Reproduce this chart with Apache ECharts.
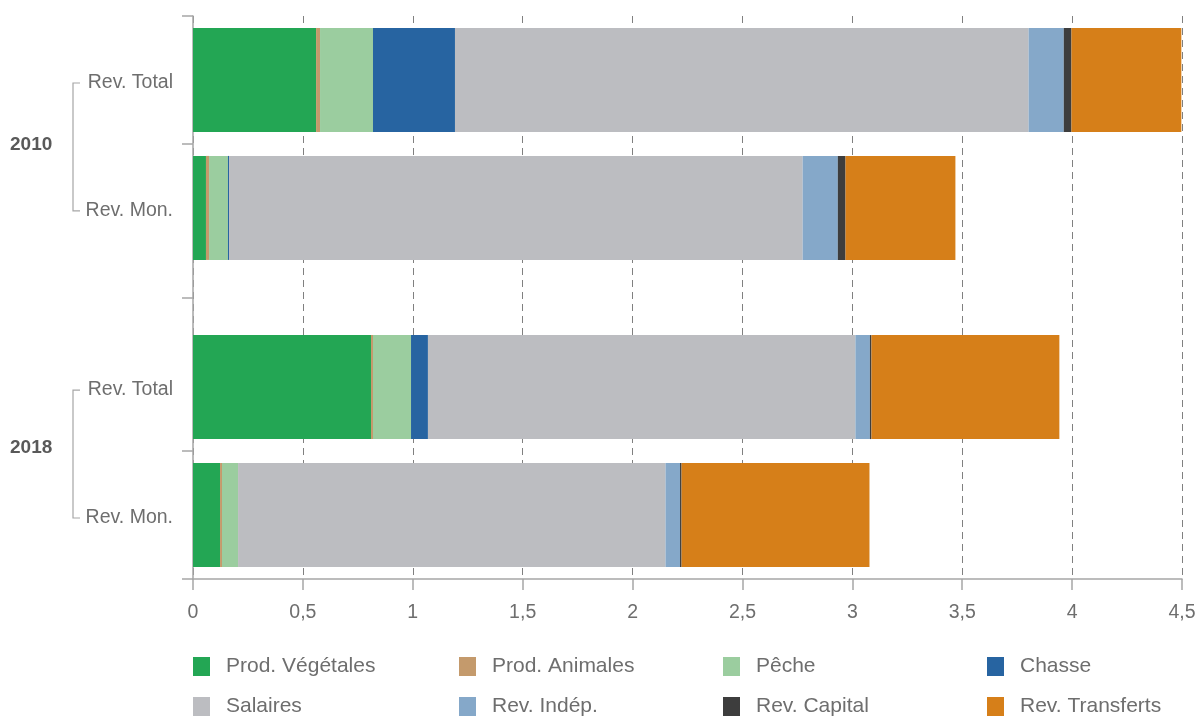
<!DOCTYPE html>
<html>
<head>
<meta charset="utf-8">
<script src="https://cdn.jsdelivr.net/npm/echarts@6/dist/echarts.min.js"></script>
<style>html,body{margin:0;padding:0;background:#fff;}#c{width:1200px;height:716px;}</style>
</head>
<body>
<div id="c"></div>
<script>
// ---- data ----
const years = ['2010', '2018'];
const barLabels = ['Rev. Total', 'Rev. Mon.', 'Rev. Total', 'Rev. Mon.'];
const barYear = [0, 0, 1, 1];
const seriesNames = ['Prod. Végétales', 'Prod. Animales', 'Pêche', 'Chasse', 'Salaires', 'Rev. Indép.', 'Rev. Capital', 'Rev. Transferts'];
const prodVegetales = [0.56, 0.059, 0.81, 0.123];
const prodAnimales = [0.018, 0.014, 0.009, 0.009];
const peche = [0.241, 0.086, 0.173, 0.073];
const chasse = [0.373, 0.005, 0.077, 0];
const salaires = [2.61, 2.61, 1.945, 1.945];
const revIndep = [0.16, 0.16, 0.066, 0.066];
const revCapital = [0.035, 0.035, 0.007, 0.007];
const revTransferts = [0.5, 0.5, 0.855, 0.855];
const xTicks = [0, 0.5, 1, 1.5, 2, 2.5, 3, 3.5, 4, 4.5];

// ---- layout (not data) ----
const SLOTS = 22;
const barSlot = [2, 7, 14, 19];
const tickSlots = [0, 5, 11, 17];
const yearOffset = [-2, -6];
const colors = ['#23a654', '#c49a6c', '#9bcd9f', '#2764a1', '#bcbdc1', '#85a8c9', '#3d3d3d', '#d67f19'];
const textColor = '#6e6e6e';
const font = 'Liberation Sans, Arial, sans-serif';
const legendColLeft = [193, 459, 723, 987];
const legendRowTop = [656, 696];

const allValues = [prodVegetales, prodAnimales, peche, chasse, salaires, revIndep, revCapital, revTransferts];
const cats = [];
for (let i = 0; i < SLOTS; i++) cats.push('');
barSlot.forEach((s, i) => { cats[s] = barLabels[i]; });

function slotData(vals) {
  const d = [];
  for (let i = 0; i < SLOTS; i++) d.push('-');
  barSlot.forEach((s, i) => { d[s] = vals[i]; });
  return d;
}

const series = seriesNames.map((n, k) => ({
  name: n, type: 'bar', stack: 'all', barWidth: 104,
  itemStyle: { color: colors[k] },
  emphasis: { disabled: true },
  data: slotData(allValues[k])
}));

const legends = seriesNames.map((n, k) => ({
  orient: 'horizontal', left: legendColLeft[k % 4], top: legendRowTop[Math.floor(k / 4)],
  itemWidth: 17, itemHeight: 19, icon: 'rect',
  selectedMode: false,
  padding: 0,
  data: [n],
  textStyle: { color: textColor, fontSize: 21, fontFamily: font, padding: [0, 0, 0, 11] }
}));

const chart = echarts.init(document.getElementById('c'), null, { renderer: 'canvas' });
chart.setOption({
  animation: false,
  color: colors,
  grid: { left: 193, right: 18, top: 16, bottom: 137, containLabel: false },
  legend: legends,
  xAxis: {
    type: 'value', min: 0, max: 4.5, interval: 0.5,
    axisLine: { show: true, lineStyle: { color: '#a6a6a6', width: 1.5 } },
    axisTick: { show: true, length: 11, lineStyle: { color: '#a6a6a6', width: 1.5 } },
    splitLine: { show: true, lineStyle: { color: '#808080', type: [7, 5], width: 1 } },
    axisLabel: {
      color: textColor, fontSize: 19.5, fontFamily: font, margin: 24,
      formatter: v => String(v).replace('.', ',')
    }
  },
  yAxis: {
    type: 'category', inverse: true, data: cats,
    axisLine: { show: true, lineStyle: { color: '#a6a6a6', width: 1.5 } },
    axisTick: { show: true, length: 11, interval: (idx) => tickSlots.indexOf(idx) >= 0, lineStyle: { color: '#a6a6a6', width: 1.5 } },
    axisLabel: { interval: 0, color: textColor, fontSize: 19.5, fontFamily: font, margin: 20, verticalAlign: 'top', lineHeight: 6 }
  },
  series: series
});

// group labels and brackets, positioned from the axis scale
const graphics = [];
years.forEach((y, yi) => {
  const idx = [];
  barYear.forEach((g, i) => { if (g === yi) idx.push(i); });
  const y0 = chart.convertToPixel({ yAxisIndex: 0 }, barSlot[idx[0]]) + 3;
  const y1 = chart.convertToPixel({ yAxisIndex: 0 }, barSlot[idx[idx.length - 1]]) + 3;
  graphics.push({
    type: 'polyline', silent: true,
    shape: { points: [[80, y0], [73, y0], [73, y1], [80, y1]] },
    style: { stroke: '#a6a6a6', lineWidth: 1.2, fill: null }
  });
  graphics.push({
    type: 'text', silent: true, x: 10, y: (y0 + y1) / 2 + yearOffset[yi],
    style: { text: y, fill: '#595959', font: 'bold 19px ' + font, textAlign: 'left', textVerticalAlign: 'middle' }
  });
});
chart.setOption({ graphic: graphics });
</script>
</body>
</html>
